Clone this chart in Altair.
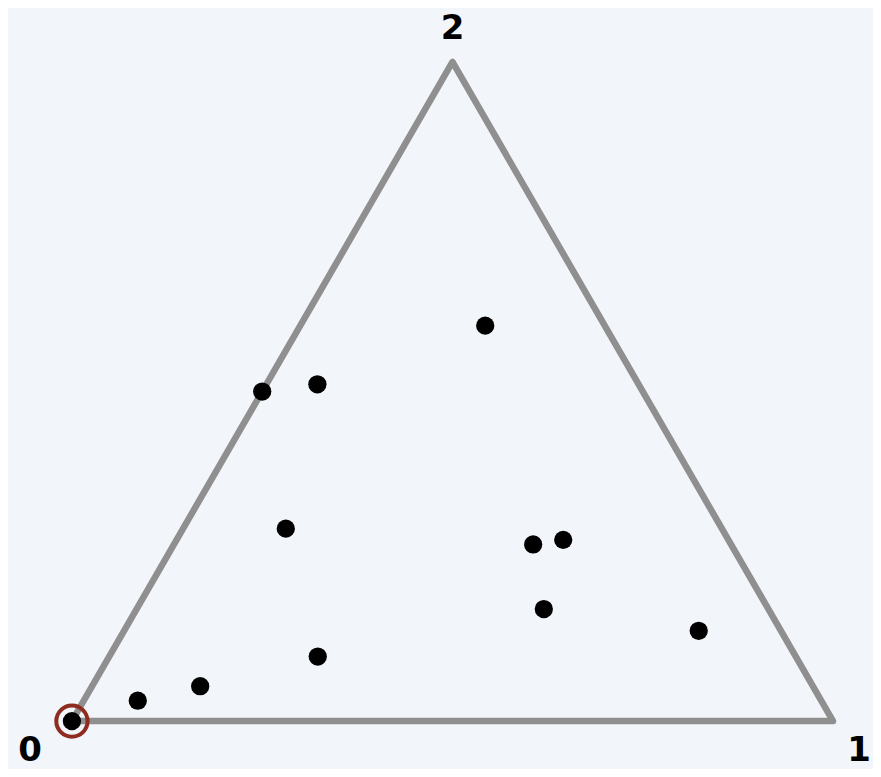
import altair as alt
import pandas as pd
import numpy as np

# Ternary composition of each point: weights toward corners "0", "1", "2"
w0 = [1.000, 0.898, 0.805, 0.628, 0.573, 0.500, 0.422, 0.157, 0.260, 0.217, 0.295, 0.108]
w1 = [0.000, 0.071, 0.142, 0.274, 0.135, 0.000, 0.067, 0.243, 0.472, 0.508, 0.535, 0.755]
w2 = [0.000, 0.031, 0.053, 0.098, 0.292, 0.500, 0.511, 0.600, 0.268, 0.275, 0.170, 0.137]
highlight = [True] + [False] * 11

corner_labels = ["0", "1", "2"]

H3 = np.sqrt(3) / 2


def to_xy(a, b, c):
    s = np.array(a) + np.array(b) + np.array(c)
    b = np.array(b) / s
    c = np.array(c) / s
    return b + c / 2, c * H3


px, py = to_xy(w0, w1, w2)
pts = pd.DataFrame({"x": px, "y": py, "hl": highlight})

cx, cy = to_xy([1, 0, 0], [0, 1, 0], [0, 0, 1])
corners = pd.DataFrame({"x": cx, "y": cy, "label": corner_labels})
outline = pd.DataFrame({
    "x": list(cx) + [cx[0]],
    "y": list(cy) + [cy[0]],
    "i": [0, 1, 2, 3],
})

W, H = 866, 761
K = 762.0
x0, y0 = 64.0, 713.5
xs = alt.Scale(domain=[-x0 / K, (W - x0) / K], nice=False, zero=False)
ys = alt.Scale(domain=[-(H - y0) / K, y0 / K], nice=False, zero=False)

X = lambda: alt.X("x:Q", scale=xs, axis=None)
Y = lambda: alt.Y("y:Q", scale=ys, axis=None)

tri = alt.Chart(outline).mark_line(
    color="#8f8f8f", strokeWidth=6.5, strokeJoin="round", strokeCap="round"
).encode(x=X(), y=Y(), order="i:Q")

dots = alt.Chart(pts).mark_circle(color="#000000", size=335, opacity=1).encode(x=X(), y=Y())

ring = alt.Chart(pts).transform_filter("datum.hl").mark_point(
    shape="circle", filled=False, color="#8e2c20", size=980, strokeWidth=4, opacity=1
).encode(x=X(), y=Y())

text_style = dict(font="DejaVu Sans", fontWeight="bold", fontSize=34, color="#000000",
                  align="center", baseline="middle")
lab0 = alt.Chart(corners).transform_filter("datum.label == '0'").mark_text(
    dx=-42, dy=30, **text_style).encode(x=X(), y=Y(), text="label:N")
lab1 = alt.Chart(corners).transform_filter("datum.label == '1'").mark_text(
    dx=26, dy=30, **text_style).encode(x=X(), y=Y(), text="label:N")
lab2 = alt.Chart(corners).transform_filter("datum.label == '2'").mark_text(
    dx=0, dy=-33, **text_style).encode(x=X(), y=Y(), text="label:N")

chart = alt.layer(tri, dots, ring, lab0, lab1, lab2).properties(
    width=W, height=H, padding=0, autosize=alt.AutoSizeParams(type="none"),
    background="#f2f5f9",
).configure_view(stroke=None)

chart.save("out.html", embed_options={"renderer": "svg", "actions": False})
